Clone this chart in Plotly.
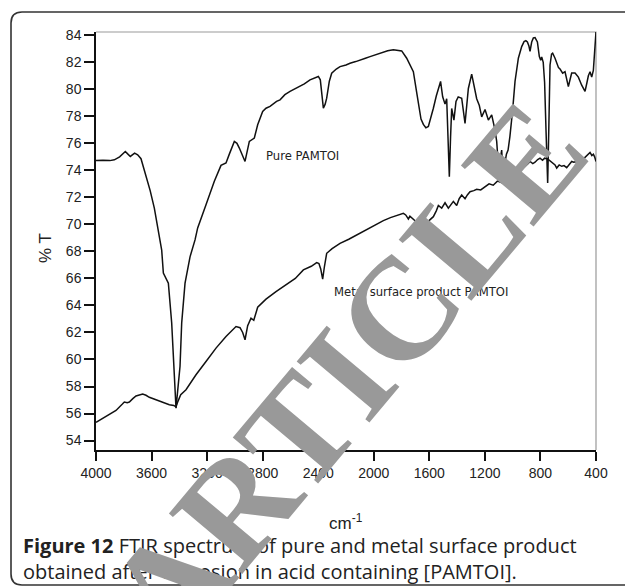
import plotly.graph_objects as go

# ---- data ----
pure_wn = [4000, 3950, 3900, 3868, 3830, 3789, 3770, 3753, 3722, 3700, 3676, 3640, 3610, 3580, 3556,
           3544, 3527, 3515, 3479, 3455, 3431, 3424, 3395, 3383, 3359, 3323, 3287, 3268, 3208, 3148,
           3100, 3064, 3040, 3004, 2985, 2968, 2927, 2896, 2860, 2836, 2800, 2776, 2747, 2700, 2675,
           2640, 2603, 2570, 2531, 2500, 2459, 2420, 2399, 2385, 2372, 2363, 2350, 2339, 2320, 2303,
           2270, 2243, 2200, 2171, 2130, 2099, 2060, 2027, 1990, 1955, 1900, 1859, 1820, 1799, 1763,
           1740, 1715, 1690, 1679, 1660, 1643, 1625, 1607, 1590, 1571, 1550, 1535, 1519, 1504, 1487,
           1475, 1465, 1456, 1447, 1439, 1423, 1408, 1392, 1367, 1343, 1319, 1295, 1283, 1271, 1259,
           1240, 1223, 1199, 1175, 1151, 1140, 1127, 1115, 1104, 1098, 1090, 1079, 1070, 1058, 1045,
           1033, 1020, 1000, 983, 959, 935, 918, 905, 894, 883, 875, 863, 851, 839, 822, 808, 798,
           791, 780, 770, 760, 748, 740, 735, 731, 720, 712, 695, 683, 670, 659, 640, 623, 610, 599,
           585, 575, 551, 527, 503, 479, 465, 455, 443, 431, 419, 410, 400]
pure_T = [74.72, 74.75, 74.72, 74.78, 75.0, 75.4, 75.2, 75.03, 75.28, 75.15, 74.86, 73.67, 72.5, 71.2, 69.7,
          68.85, 68.1, 66.4, 65.65, 62.7, 58.5, 56.4, 59.5, 62.7, 65.65, 67.6, 68.85, 69.74, 71.46, 73.19,
          74.37, 74.54, 75.2, 76.14, 76.0, 75.65, 74.66, 76.14, 76.39, 77.37, 78.36, 78.6, 78.73, 79.1, 79.22,
          79.6, 79.84, 80.0, 80.2, 80.4, 80.7, 80.85, 80.95, 80.7, 79.5, 78.6, 78.9, 79.34, 80.6, 81.19,
          81.5, 81.68, 81.8, 81.93, 82.05, 82.18, 82.3, 82.42, 82.55, 82.67, 82.85, 82.92, 82.9, 82.84, 82.3,
          81.8, 81.3, 79.7, 79.1, 77.8, 77.4, 77.15, 77.25, 77.8, 78.6, 79.5, 79.96, 80.58, 79.44, 78.9,
          79.3, 76.5, 73.53, 76.5, 78.58, 77.72, 79.1, 79.44, 79.34, 77.47, 80.06, 81.12, 80.5, 79.69, 79.3,
          78.8, 77.96, 78.5, 77.72, 78.1, 77.6, 76.98, 76.14, 74.5, 73.65, 74.8, 75.5, 73.7, 74.5, 75.2,
          75.5, 76.5, 78.5, 80.58, 82.3, 83.16, 83.53, 83.6, 83.5, 83.2, 82.8, 83.5, 83.8, 83.83, 83.5, 82.42, 82.15,
          82.4, 82.0, 80.5, 77.0, 73.06, 77.0, 80.5, 81.8, 82.6, 82.67, 82.3, 81.9, 81.6, 81.5, 81.19, 81.3, 80.6, 80.2,
          80.8, 81.2, 81.2, 80.9, 80.3, 79.84, 80.5, 81.0, 81.3, 80.9, 81.4, 83.0, 84.27]

metal_wn = [4000, 3928, 3856, 3810, 3796, 3775, 3760, 3735, 3712, 3664, 3640, 3616, 3580, 3544, 3500,
            3472, 3440, 3424, 3410, 3390, 3352, 3280, 3208, 3136, 3064, 2992, 2963, 2944, 2927, 2908,
            2884, 2864, 2836, 2776, 2704, 2632, 2565, 2507, 2450, 2411, 2395, 2382, 2368, 2355, 2339,
            2300, 2243, 2180, 2123, 2070, 2027, 1980, 1931, 1880, 1835, 1787, 1770, 1751, 1740, 1715,
            1695, 1679, 1660, 1643, 1630, 1619, 1600, 1571, 1550, 1535, 1511, 1495, 1487, 1463, 1440,
            1427, 1403, 1385, 1367, 1343, 1325, 1307, 1280, 1259, 1230, 1200, 1170, 1140, 1110, 1080,
            1050, 1020, 990, 971, 950, 930, 911, 890, 875, 855, 839, 820, 803, 785, 770, 748, 730, 712,
            695, 683, 665, 647, 630, 611, 595, 575, 560, 540, 520, 508, 490, 471, 455, 443, 430, 419,
            410, 400]
metal_T = [55.35, 55.79, 56.23, 56.7, 56.85, 56.8, 56.85, 57.1, 57.3, 57.44, 57.35, 57.2, 57.05, 56.9, 56.75,
           56.65, 56.6, 56.5, 56.9, 57.4, 57.76, 58.87, 59.85, 60.84, 61.7, 62.44, 62.35, 62.0, 61.46, 62.5,
           63.06, 62.9, 63.87, 64.47, 65.03, 65.52, 66.0, 66.63, 66.9, 67.17, 67.1, 66.7, 65.94, 66.9, 67.86,
           68.2, 68.6, 68.9, 69.22, 69.5, 69.79, 70.0, 70.28, 70.5, 70.65, 70.82, 70.7, 70.4, 70.6, 70.4,
           70.2, 70.0, 69.7, 69.46, 69.6, 70.0, 70.3, 70.57, 71.0, 71.4, 71.2, 71.5, 71.6, 71.2, 71.5,
           71.7, 71.4, 71.9, 72.17, 71.9, 72.2, 72.42, 72.5, 72.6, 72.55, 72.8, 73.0, 72.9, 73.2, 73.1,
           73.6, 73.9, 74.0, 74.17, 74.0, 74.4, 74.3, 74.5, 74.66, 74.5, 74.6, 74.8, 74.9, 74.75, 74.9, 74.85, 74.7, 74.6,
           74.4, 74.17, 74.4, 74.3, 74.35, 74.2, 74.4, 74.66, 74.6, 74.65, 74.85, 74.9, 74.85, 75.03, 75.2, 75.33, 75.1, 75.2,
           75.0, 74.66]

y_ticks = list(range(54, 86, 2))
x_ticks = [4000, 3600, 3200, 2800, 2400, 2000, 1600, 1200, 800, 400]

pure_label = "Pure PAMTOI"
metal_label = "Metal surface product PAMTOI"
caption = ("<b>Figure 12</b> FTIR spectrum of pure and metal surface product<br>"
           "obtained after corrosion in acid containing [PAMTOI].")
watermark = "ARTICLE"

# ---- layout geometry ----
W, H = 625, 586
L, R, T, B = 96, 29, 32, 136
PW, PH = W - L - R, H - T - B


def px(x):
    return (x - L) / PW


def py(y):
    return (H - B - y) / PH


fig = go.Figure()
fig.add_trace(go.Scatter(x=pure_wn, y=pure_T, mode="lines",
                         line=dict(color="#111111", width=1.5), showlegend=False))
fig.add_trace(go.Scatter(x=metal_wn, y=metal_T, mode="lines",
                         line=dict(color="#111111", width=1.5), showlegend=False))

axis_font = dict(family="Liberation Sans, Arial, sans-serif", size=14, color="#222222")
fig.update_xaxes(range=[4000, 400], tickvals=x_ticks, ticktext=[str(v) for v in x_ticks],
                 showgrid=False, zeroline=False, showline=True, linecolor="#111111", linewidth=1.5,
                 ticks="outside", ticklen=9, tickwidth=1.5, tickcolor="#111111", tickfont=axis_font)
fig.update_yaxes(range=[53.3, 84.24], tickvals=y_ticks, ticktext=[str(v) for v in y_ticks],
                 showgrid=False, zeroline=False, showline=True, linecolor="#111111", linewidth=1.5,
                 ticks="outside", ticklen=10, tickwidth=1.5, tickcolor="#111111", tickfont=axis_font)

shapes = [
    dict(type="path", xref="paper", yref="paper",
         path="M 0 1 L 1 1 L 1 0", line=dict(color="#999999", width=1.2), layer="below"),
    dict(type="path", xref="paper", yref="paper",
         path=(f"M {px(640)} {py(12)} L {px(22)} {py(12)} "
               f"Q {px(11)} {py(12)} {px(11)} {py(23)} "
               f"L {px(11)} {py(574)} Q {px(11)} {py(585)} {px(22)} {py(585)} "
               f"L {px(640)} {py(585)}"),
         line=dict(color="#333333", width=1.6)),
]

annotations = [
    dict(text=pure_label, x=px(264), y=py(156), xref="paper", yref="paper",
         xanchor="left", yanchor="middle", showarrow=False,
         font=dict(family="DejaVu Sans, Verdana, sans-serif", size=11.6, color="#222222")),
    dict(text=metal_label, x=px(332), y=py(292), xref="paper", yref="paper",
         xanchor="left", yanchor="middle", showarrow=False,
         font=dict(family="DejaVu Sans, Verdana, sans-serif", size=11.6, color="#222222")),
    dict(text="% T", x=px(45), y=py(248), xref="paper", yref="paper", textangle=-90,
         xanchor="center", yanchor="middle", showarrow=False,
         font=dict(family="Liberation Sans, Arial, sans-serif", size=17, color="#222222")),
    dict(text="cm<sup>-1</sup>", x=px(346), y=py(522), xref="paper", yref="paper",
         xanchor="center", yanchor="middle", showarrow=False,
         font=dict(family="Liberation Sans, Arial, sans-serif", size=17, color="#222222")),
    dict(text=caption, x=px(21), y=py(559), xref="paper", yref="paper", align="left",
         xanchor="left", yanchor="middle", showarrow=False,
         font=dict(family="Open Sans, sans-serif", size=20, color="#222222")),
    dict(text="<b>" + watermark + "</b>", x=px(346), y=py(374), xref="paper", yref="paper",
         textangle=-50, xanchor="center", yanchor="middle", showarrow=False,
         font=dict(family="Liberation Serif, Times New Roman, serif", size=145, color="#999999")),
]

fig.update_layout(width=W, height=H, margin=dict(l=L, r=R, t=T, b=B),
                  paper_bgcolor="white", plot_bgcolor="white",
                  shapes=shapes, annotations=annotations, showlegend=False)

fig.write_html("out.html", config={"displayModeBar": False},
               post_script="document.body.style.margin='0';document.body.style.padding='0';")
